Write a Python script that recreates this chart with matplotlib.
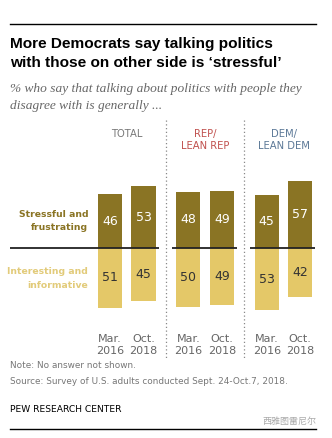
import numpy as np
import matplotlib.pyplot as plt

# data
groups = ['TOTAL', 'REP/\nLEAN REP', 'DEM/\nLEAN DEM']
group_colors = ['#777777', '#c0504d', '#5b7897']
periods = ['Mar.\n2016', 'Oct.\n2018']
stressful = [[46, 53], [48, 49], [45, 57]]
interesting = [[51, 45], [50, 49], [53, 42]]

DARK = '#8a7424'
LIGHT = '#e4c868'
GAP = 2.34    # group spacing in bar units
W = 0.72

W_PX, H_PX = 332, 438
fig = plt.figure(figsize=(W_PX / 100, H_PX / 100), dpi=100)
fig.patch.set_facecolor('white')

# axes placed so bars line up with the reference
ax = fig.add_axes([0, 1 - 330 / H_PX, 1, 210 / H_PX])
ax.set_xlim(-110 / 33.5, (W_PX - 110) / 33.5)
ax.set_ylim(-70, 109.4)
ax.axis('off')

for g in range(len(groups)):
    xs = g * GAP + np.arange(len(periods))
    top = stressful[g]
    bot = interesting[g]
    ax.bar(xs, top, width=W, bottom=0, color=DARK)
    ax.bar(xs, [-v for v in bot], width=W, bottom=0, color=LIGHT)
    for x, v in zip(xs, top):
        ax.text(x, v / 2, str(v), ha='center', va='center', color='white', fontsize=9)
    for x, v in zip(xs, bot):
        ax.text(x, -v / 2, str(v), ha='center', va='center', color='#333333', fontsize=9)
    for x, p in zip(xs, periods):
        ax.text(x, -73, p, ha='center', va='top', color='#666666', fontsize=8,
                linespacing=1.35)
    ax.text(g * GAP + 0.5, 102, groups[g], ha='center', va='top', color=group_colors[g],
            fontsize=7.2, linespacing=1.35)
    x0 = -3.0 if g == 0 else g * GAP - 0.5
    ax.plot([x0, g * GAP + 1.45], [0, 0], color='#222222', lw=1.3, solid_capstyle='butt')
    if g < len(groups) - 1:
        ax.plot([g * GAP + 1.67] * 2, [109, -96], color='#888888', lw=0.9,
                ls=(0, (1, 2)), clip_on=False)

ax.text(-0.65, 23, 'Stressful and\nfrustrating', ha='right', va='center', color=DARK,
        fontsize=6.7, fontweight='bold', linespacing=1.6)
ax.text(-0.65, -26, 'Interesting and\ninformative', ha='right', va='center', color='#e2cb7a',
        fontsize=6.7, fontweight='bold', linespacing=1.6)

# header and footer
def fy(px):
    return 1 - px / H_PX

fig.add_artist(plt.Line2D([10 / W_PX, 316 / W_PX], [fy(24)] * 2, color='black', lw=1))
fig.add_artist(plt.Line2D([10 / W_PX, 316 / W_PX], [fy(429)] * 2, color='black', lw=1))
fig.text(10 / W_PX, fy(37), 'More Democrats say talking politics\nwith those on other side is \u2018stressful\u2019',
         ha='left', va='top', fontsize=11.1, fontweight='bold', family='Liberation Sans',
         linespacing=1.45)
fig.text(10 / W_PX, fy(83), '% who say that talking about politics with people they\ndisagree with is generally ...',
         ha='left', va='top', fontsize=9.6, style='italic', family='Liberation Serif',
         color='#666666', linespacing=1.5)
fig.text(10 / W_PX, fy(366), 'Note: No answer not shown.', ha='left', va='center',
         fontsize=6.4, color='#777777')
fig.text(10 / W_PX, fy(381), 'Source: Survey of U.S. adults conducted Sept. 24-Oct.7, 2018.',
         ha='left', va='center', fontsize=6.4, color='#777777')
fig.text(10 / W_PX, fy(409), 'PEW RESEARCH CENTER', ha='left', va='center',
         fontsize=6.6, color='black')
fig.text(316 / W_PX, fy(421), '西雅图雷尼尔', ha='right', va='center', fontsize=6.5,
         color='#aaaaaa', family='Noto Sans CJK SC')

fig.savefig('out.png', dpi=100)
